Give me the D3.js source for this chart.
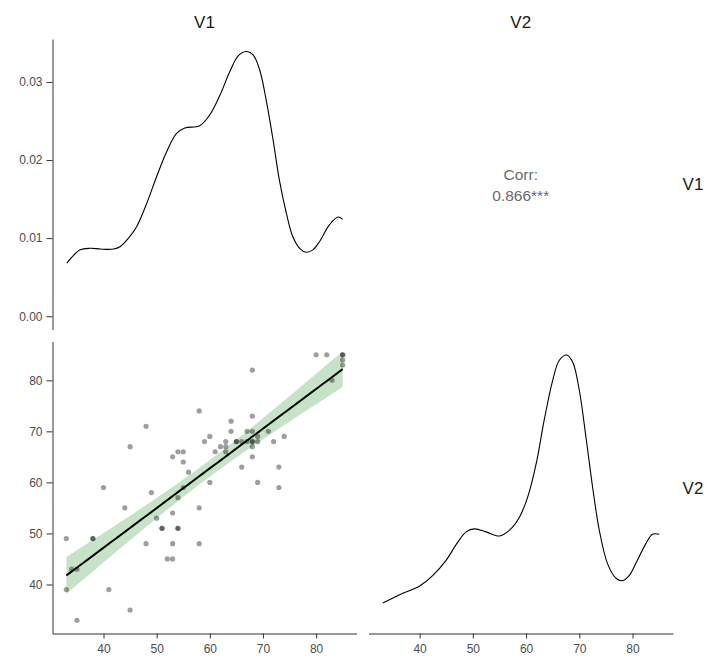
<!DOCTYPE html>
<meta charset="utf-8">
<style>
body { margin: 0; background: #fff; }
svg text { font-family: "Liberation Sans", Arial, sans-serif; }
.tick text { fill: #4d4d4d; font-size: 12px; }
.axis path, .axis line { stroke: #333; }
.strip { fill: #1a1a1a; font-size: 17px; }
.corr { fill: #6b6b6b; font-size: 15.5px; }
</style>
<svg width="707" height="659"></svg>
<script src="https://d3js.org/d3.v7.min.js"></script>
<script>
// observations (V1, V2)
var v1 = [33,33,34,35,35,38,38,40,41,44,45,45,48,48,49,50,51,51,52,53,53,53,53,54,54,54,54,55,55,55,56,58,58,58,59,60,60,61,62,63,63,63,64,64,65,65,66,66,67,67,68,68,68,68,68,68,68,69,69,69,71,72,73,73,74,80,82,83,85,85,85,85];
var v2 = [49,39,43,43,33,49,49,59,39,55,67,35,71,48,58,53,51,51,45,45,48,54,65,66,57,51,51,66,64,59,62,74,55,48,68,69,60,66,67,68,67,66,72,70,68,68,68,63,70,68,82,73,70,68,68,67,65,69,68,60,70,68,63,59,69,85,85,80,85,85,84,83];

// density curves
var dens1x = [33.1,35.6,37.5,39.4,41.9,43.1,44.7,46.25,48.1,50,51.9,53.75,55.3,58.1,60,61.9,63.75,65.3,66.75,68.1,69.4,70.6,71.9,73.1,74.4,75.6,76.9,78.1,79.4,80.6,82.5,84.1,85];
var dens1y = [0.0068,0.0085,0.0087,0.0086,0.0086,0.0089,0.0100,0.0115,0.0144,0.0179,0.0211,0.0234,0.0241,0.0244,0.0258,0.0283,0.0313,0.0333,0.0339,0.0335,0.0315,0.0277,0.0226,0.0174,0.0132,0.0102,0.0087,0.0082,0.0085,0.0095,0.0117,0.0127,0.0124];
var dens2x = [33.1,36.25,40,42.5,45,47.2,48.75,50.3,52.5,55,56.9,58.75,60.3,61.9,63.4,65,66.25,67.6,68.75,70,71.25,72.5,73.75,75.3,76.9,78.1,79.4,80.6,82.5,83.75,85];
var dens2y = [0.0029,0.0043,0.0058,0.0076,0.0102,0.0133,0.0150,0.0155,0.0150,0.0143,0.0153,0.0175,0.0209,0.0266,0.0340,0.0408,0.0442,0.0451,0.0439,0.0391,0.0311,0.0226,0.0153,0.0096,0.0071,0.0067,0.0076,0.0096,0.0130,0.0146,0.0146];

var varNames = ["V1", "V2"];
var corrLabel = ["Corr:", "0.866***"];
var densTicks = [0, 0.01, 0.02, 0.03];
var valTicks = [40, 50, 60, 70, 80];

var svg = d3.select("svg");

var col1 = [52.5, 356.5], col2 = [368.5, 673];
var row1 = [39, 329.5], row2 = [341.5, 633.5];

var x1 = d3.scaleLinear().domain([30.4, 87.6]).range(col1);
var x2 = d3.scaleLinear().domain([30.4, 87.6]).range(col2);
var yDens1 = d3.scaleLinear().domain([-0.0017, 0.0355]).range([row1[1], row1[0]]);
var yScat = d3.scaleLinear().domain([30.4, 87.6]).range([row2[1], row2[0]]);
var yDens2 = d3.scaleLinear().domain([-0.0023, 0.0474]).range([row2[1], row2[0]]);

// axes
svg.append("g").attr("class", "axis")
  .attr("transform", "translate(" + col1[0] + ",0)")
  .call(d3.axisLeft(yDens1).tickValues(densTicks).tickFormat(d3.format(".2f")).tickSize(6).tickPadding(4).tickSizeOuter(0));
svg.append("g").attr("class", "axis")
  .attr("transform", "translate(" + col1[0] + ",0)")
  .call(d3.axisLeft(yScat).tickValues(valTicks).tickSize(6).tickPadding(4).tickSizeOuter(0));
svg.append("g").attr("class", "axis")
  .attr("transform", "translate(0," + row2[1] + ")")
  .call(d3.axisBottom(x1).tickValues(valTicks).tickSize(5).tickPadding(6).tickSizeOuter(0));
svg.append("g").attr("class", "axis")
  .attr("transform", "translate(0," + row2[1] + ")")
  .call(d3.axisBottom(x2).tickValues(valTicks).tickSize(5).tickPadding(6).tickSizeOuter(0));

// density V1
var d1 = dens1x.map(function(d, i) { return [d, dens1y[i]]; });
svg.append("path").datum(d1)
  .attr("fill", "none").attr("stroke", "#000").attr("stroke-width", 1.1)
  .attr("d", d3.line().curve(d3.curveCatmullRom)
    .x(function(d) { return x1(d[0]); }).y(function(d) { return yDens1(d[1]); }));

// density V2
var d2 = dens2x.map(function(d, i) { return [d, dens2y[i]]; });
svg.append("path").datum(d2)
  .attr("fill", "none").attr("stroke", "#000").attr("stroke-width", 1.1)
  .attr("d", d3.line().curve(d3.curveCatmullRom)
    .x(function(d) { return x2(d[0]); }).y(function(d) { return yDens2(d[1]); }));

// linear fit with 95% band
var n = v1.length;
var mx = d3.mean(v1), my = d3.mean(v2);
var sxx = d3.sum(v1, function(d) { return (d - mx) * (d - mx); });
var sxy = d3.sum(v1, function(d, i) { return (d - mx) * (v2[i] - my); });
var b = sxy / sxx, a = my - b * mx;
var sse = d3.sum(v1, function(d, i) { var r = v2[i] - (a + b * d); return r * r; });
var se = Math.sqrt(sse / (n - 2));
var tq = 1.994;
var xs = d3.range(0, 80).map(function(i) { return d3.min(v1) + i * (d3.max(v1) - d3.min(v1)) / 79; });
var fit = xs.map(function(x) {
  var yh = a + b * x;
  var w = tq * se * Math.sqrt(1 / n + (x - mx) * (x - mx) / sxx);
  return { x: x, y: yh, lo: yh - w, hi: yh + w };
});

svg.append("path").datum(fit)
  .attr("fill", "#c7e3c7")
  .attr("d", d3.area()
    .x(function(d) { return x1(d.x); })
    .y0(function(d) { return yScat(d.lo); })
    .y1(function(d) { return yScat(d.hi); }));

svg.selectAll(".pt").data(v1).enter().append("circle")
  .attr("class", "pt")
  .attr("cx", function(d) { return x1(d); })
  .attr("cy", function(d, i) { return yScat(v2[i]); })
  .attr("r", 2.6)
  .attr("fill", "#000").attr("fill-opacity", 0.38);

svg.append("path").datum(fit)
  .attr("fill", "none").attr("stroke", "#000").attr("stroke-width", 2)
  .attr("d", d3.line().x(function(d) { return x1(d.x); }).y(function(d) { return yScat(d.y); }));

// correlation text
svg.selectAll(".corr").data(corrLabel).enter().append("text")
  .attr("class", "corr")
  .attr("x", (col2[0] + col2[1]) / 2)
  .attr("y", function(d, i) { return 180 + i * 21; })
  .attr("text-anchor", "middle")
  .text(function(d) { return d; });

// strip labels
svg.selectAll(".stripTop").data(varNames).enter().append("text")
  .attr("class", "strip")
  .attr("x", function(d, i) { return i == 0 ? (col1[0] + col1[1]) / 2 : (col2[0] + col2[1]) / 2; })
  .attr("y", 28)
  .attr("text-anchor", "middle")
  .text(function(d) { return d; });
svg.selectAll(".stripRight").data(varNames).enter().append("text")
  .attr("class", "strip")
  .attr("x", 693)
  .attr("y", function(d, i) { return (i == 0 ? (row1[0] + row1[1]) / 2 : (row2[0] + row2[1]) / 2) + 6; })
  .attr("text-anchor", "middle")
  .text(function(d) { return d; });
</script>
